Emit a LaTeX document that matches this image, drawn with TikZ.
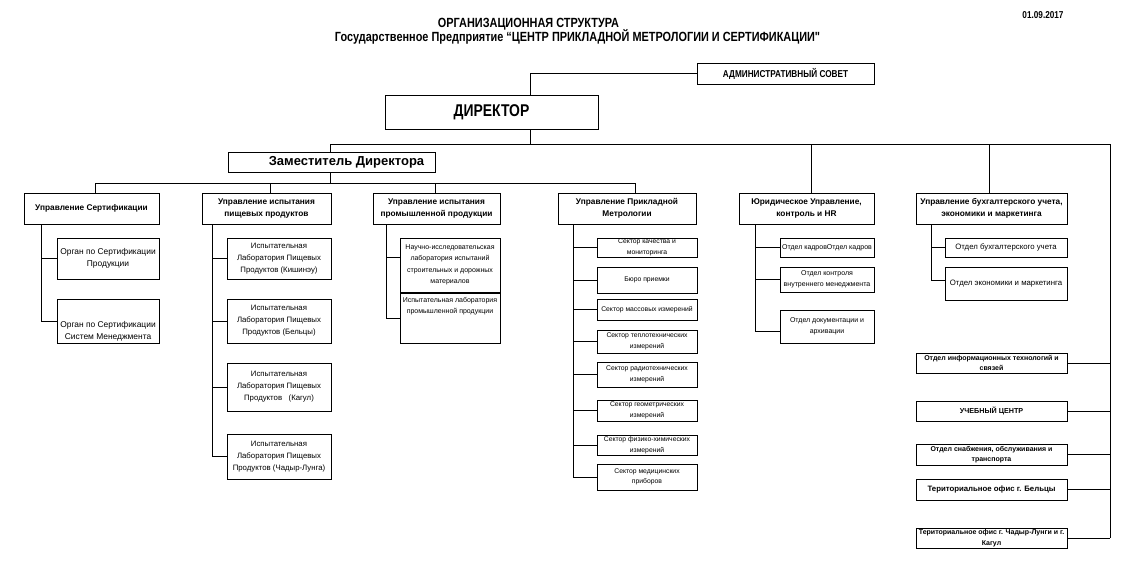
\documentclass[tikz,border=0pt]{standalone}
\usepackage{fontspec}
\setmainfont{Liberation Sans}
\newfontfamily\narrow[FakeStretch=0.82]{Liberation Sans}
\usetikzlibrary{calc}
\tikzset{
  box/.style={draw, line width=1pt, inner sep=1pt, align=center},
  hdr/.style={box, font=\fontsize{8.3}{12}\selectfont\bfseries},
  lab/.style={box, font=\fontsize{7.8}{12}\selectfont},
  sec/.style={box, font=\fontsize{6.8}{10.5}\selectfont},
  side/.style={box, font=\fontsize{7}{10.5}\selectfont\bfseries},
  link/.style={line width=1pt}
}

\begin{document}
\begin{tikzpicture}[x=1pt, y=-1pt]
		%%%%% START %%%%%
		\fill[white] (0, 0) rectangle (1148, 563);
		\useasboundingbox (0, 0) rectangle (1148, 563);
		
		\node[font=\narrow\fontsize{10}{12}\selectfont\bfseries] (date) at (1043, 15) {01.09.2017};
		\node[font=\narrow\fontsize{13.3}{15}\selectfont\bfseries] (title) at (528.5, 24) {ОРГАНИЗАЦИОННАЯ СТРУКТУРА};
		\node[font=\narrow\fontsize{13.3}{15}\selectfont\bfseries] (subtitle) at (577.5, 37) {Государственное Предприятие “ЦЕНТР ПРИКЛАДНОЙ МЕТРОЛОГИИ И СЕРТИФИКАЦИИ"};
		
		\node[box, minimum width=177, minimum height=21, font=\narrow\fontsize{10}{12}\selectfont\bfseries] (adm) at (785.5, 73.5) {АДМИНИСТРАТИВНЫЙ СОВЕТ};
		\node[box, minimum width=213, minimum height=34, font=\narrow\fontsize{17}{20}\selectfont\bfseries] (dir) at (491.5, 112) {ДИРЕКТОР};
		\node[box, minimum width=207, minimum height=20, font=\fontsize{13}{14}\selectfont\bfseries] (dep) at (331.5, 162) {\hspace*{30pt}Заместитель Директора};
		
		% heads of departments
		\node[hdr, minimum width=135, minimum height=31] (cert) at (91.5, 208.5) {Управление Сертификации};
		\node[hdr, minimum width=129, minimum height=31] (food) at (266.5, 208.5) {Управление испытания\\пищевых продуктов};
		\node[hdr, minimum width=127, minimum height=31] (ind) at (436.5, 208.5) {Управление испытания\\промышленной продукции};
		\node[hdr, minimum width=138, minimum height=31] (metr) at (627, 208.5) {Управление Прикладной\\Метрологии};
		\node[hdr, minimum width=135, minimum height=31] (jur) at (806.5, 208.5) {Юридическое Управление,\\контроль и HR};
		\node[hdr, minimum width=151, minimum height=31] (acc) at (991.5, 208.5) {Управление бухгалтерского учета,\\экономики и маркетинга};
		
		\node[lab, minimum width=102, minimum height=41, font=\fontsize{8.4}{12}\selectfont] (org1) at (108, 258.5) {Орган по Сертификации\\Продукции};
		\node[lab, minimum width=102, minimum height=44] (org2) at (108, 321) {};
		\node[font=\fontsize{8.4}{12}\selectfont, align=center, anchor=south, inner sep=2pt] (org2t) at (org2.south) {Орган по Сертификации\\Систем Менеджмента};
		
		\node[lab, minimum width=104, minimum height=41] (lab1) at (279, 258.5) {Испытательная\\Лаборатория Пищевых\\Продуктов (Кишинэу)};
		\node[lab, minimum width=104, minimum height=44] (lab2) at (279, 321) {Испытательная\\Лаборатория Пищевых\\Продуктов (Бельцы)};
		\node[lab, minimum width=104, minimum height=48] (lab3) at (279, 387) {Испытательная\\Лаборатория Пищевых\\Продуктов~~~(Кагул)};
		\node[lab, minimum width=104, minimum height=45] (lab4) at (279, 456.5) {Испытательная\\Лаборатория Пищевых\\Продуктов (Чадыр-Лунга)};
		
		\node[sec, minimum width=100, minimum height=54, font=\fontsize{7}{11.5}\selectfont] (nil) at (450, 265) {Научно-исследовательская\\лаборатория испытаний\\строительных и дорожных\\материалов};
		\node[sec, minimum width=100, minimum height=50] (ilp) at (450, 318) {};
		\node[font=\fontsize{7}{11}\selectfont, align=center, anchor=north, inner sep=5pt] (ilpt) at (ilp.north) {Испытательная лаборатория\\промышленной продукции};
		
		\node[sec, minimum width=100, minimum height=19] (s1) at (647, 247.5) {Сектор качества и\\мониторинга};
		\node[sec, minimum width=100, minimum height=26] (s2) at (647, 280) {Бюро приемки};
		\node[sec, minimum width=100, minimum height=21] (s3) at (647, 309.5) {Сектор массовых измерений};
		\node[sec, minimum width=100, minimum height=23] (s4) at (647, 341.5) {Сектор теплотехнических\\измерений};
		\node[sec, minimum width=100, minimum height=25] (s5) at (647, 374.5) {Сектор радиотехнических\\измерений};
		\node[sec, minimum width=100, minimum height=21] (s6) at (647, 410.5) {Сектор геометрических\\измерений};
		\node[sec, minimum width=100, minimum height=20] (s7) at (647, 445) {Сектор физико-химических\\измерений};
		\node[sec, minimum width=100, minimum height=26] (s8) at (647, 477) {Сектор медицинских\\приборов};
		
		\node[sec, minimum width=94, minimum height=19, font=\fontsize{7}{10.5}\selectfont] (j1) at (827, 247.5) {Отдел кадровОтдел кадров};
		\node[sec, minimum width=94, minimum height=25, font=\fontsize{7}{10.5}\selectfont] (j2) at (827, 279.5) {Отдел контроля\\внутреннего менеджмента};
		\node[sec, minimum width=94, minimum height=33, font=\fontsize{7}{10.5}\selectfont] (j3) at (827, 326.5) {Отдел документации и\\архивации};
		
		\node[sec, minimum width=122, minimum height=19, font=\fontsize{7.8}{10.5}\selectfont] (a1) at (1006, 247.5) {Отдел бухгалтерского учета};
		\node[sec, minimum width=122, minimum height=33, font=\fontsize{7.8}{10.5}\selectfont] (a2) at (1006, 283.5) {Отдел экономики и маркетинга};
		
		% right column
		\node[side, minimum width=151, minimum height=20] (it) at (991.5, 363) {Отдел информационных технологий и\\связей};
		\node[side, minimum width=151, minimum height=20, font=\fontsize{7.2}{10}\selectfont\bfseries] (edu) at (991.5, 411) {УЧЕБНЫЙ ЦЕНТР};
		\node[side, minimum width=151, minimum height=21] (sup) at (991.5, 454.5) {Отдел снабжения, обслуживания и\\транспорта};
		\node[side, minimum width=151, minimum height=21, font=\fontsize{7.8}{10}\selectfont\bfseries] (bel) at (991.5, 489.5) {Териториальное офис г. Бельцы};
		\node[side, minimum width=151, minimum height=20] (chad) at (991.5, 538) {Териториальное офис г. Чадыр-Лунги и г.\\Кагул};
		
		% lines
		\coordinate (bus0) at (530, 144);
		\coordinate (busL) at (330, 144);
		\coordinate (busR) at (1110, 144);
		\coordinate (busJ) at (811, 144);
		\coordinate (busA) at (989, 144);
		\draw[link] (adm.west) -| (dir.north -| bus0);
		\draw[link] (dir.south -| bus0) -- (bus0);
		\draw[link] (busL) -- (busR);
		\draw[link] (busL) -- (busL |- dep.north);
		\draw[link] (busJ) -- (busJ |- jur.north);
		\draw[link] (busA) -- (busA |- acc.north);
		
		\coordinate (b2L) at (95, 183);
		\coordinate (b2F) at (270, 183);
		\coordinate (b2I) at (435, 183);
		\coordinate (b2R) at (635, 183);
		\draw[link] (busL |- dep.south) -- (busL |- b2L);
		\draw[link] (b2L) -- (b2R);
		\draw[link] (b2L) -- (b2L |- cert.north);
		\draw[link] (b2F) -- (b2F |- food.north);
		\draw[link] (b2I) -- (b2I |- ind.north);
		\draw[link] (b2R) -- (b2R |- metr.north);
		
		\coordinate (tc) at (41, 0);
		\draw[link] (tc |- cert.south) |- (org1.west);
		\draw[link] (tc |- cert.south) |- (org2.west);
		
		\coordinate (tf) at (212, 0);
		\draw[link] (tf |- food.south) |- (lab1.west);
		\draw[link] (tf |- food.south) |- (lab2.west);
		\draw[link] (tf |- food.south) |- (lab3.west);
		\draw[link] (tf |- food.south) |- (lab4.west);
		
		\coordinate (ti) at (386, 0);
		\draw[link] (ti |- ind.south) |- ([yshift=8pt]nil.west);
		\draw[link] (ti |- ind.south) |- (ilp.west);
		
		\coordinate (tm) at (573, 0);
		\draw[link] (tm |- metr.south) |- (s1.west);
		\draw[link] (tm |- metr.south) |- (s2.west);
		\draw[link] (tm |- metr.south) |- (s3.west);
		\draw[link] (tm |- metr.south) |- (s4.west);
		\draw[link] (tm |- metr.south) |- (s5.west);
		\draw[link] (tm |- metr.south) |- (s6.west);
		\draw[link] (tm |- metr.south) |- (s7.west);
		\draw[link] (tm |- metr.south) |- (s8.west);
		
		\coordinate (tj) at (755, 0);
		\draw[link] (tj |- jur.south) |- (j1.west);
		\draw[link] (tj |- jur.south) |- (j2.west);
		\draw[link] (tj |- jur.south) |- ([yshift=-4.5pt]j3.west);
		
		\coordinate (ta) at (931, 0);
		\draw[link] (ta |- acc.south) |- (a1.west);
		\draw[link] (ta |- acc.south) |- ([yshift=3.5pt]a2.west);
		
		\draw[link] (busR) -- (busR |- chad.east);
		\draw[link] (it.east) -- (it.east -| busR);
		\draw[link] (edu.east) -- (edu.east -| busR);
		\draw[link] (sup.east) -- (sup.east -| busR);
		\draw[link] (bel.east) -- (bel.east -| busR);
		\draw[link] (chad.east) -- (chad.east -| busR);
		%%%%% END %%%%%
	\end{tikzpicture}
\end{document}
